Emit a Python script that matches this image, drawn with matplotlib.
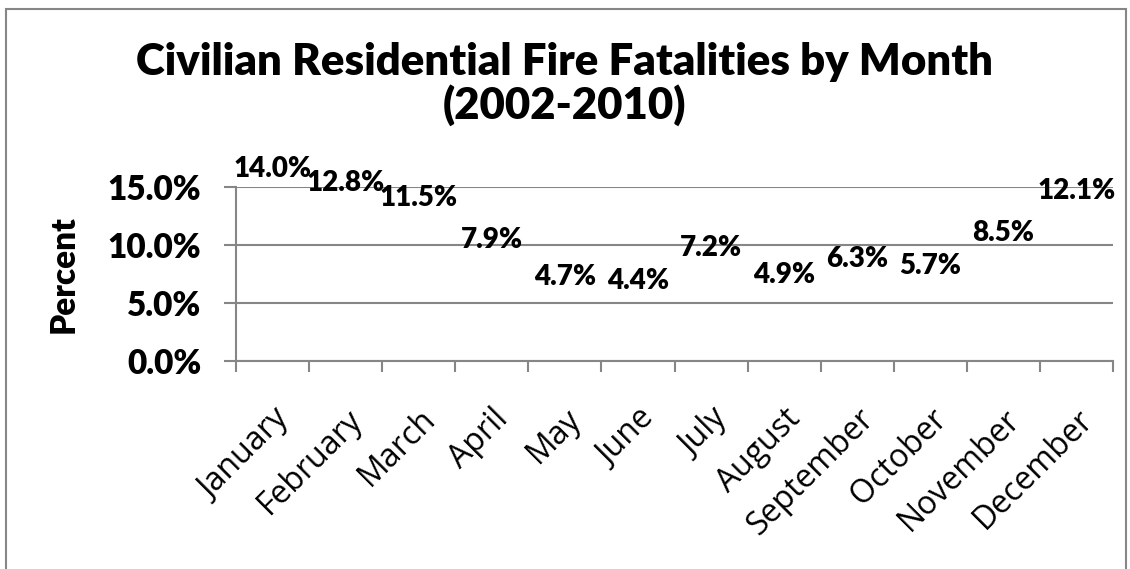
import numpy as np
import matplotlib.pyplot as plt
from matplotlib.patches import Rectangle
from matplotlib.transforms import ScaledTranslation

months = ['January', 'February', 'March', 'April', 'May', 'June', 'July',
          'August', 'September', 'October', 'November', 'December']
pct = [14.0, 12.8, 11.5, 7.9, 4.7, 4.4, 7.2, 4.9, 6.3, 5.7, 8.5, 12.1]
yticks = [0, 5, 10, 15]

plt.rcParams['font.family'] = ['Lato', 'DejaVu Sans']
grey = '#868686'

fig = plt.figure(figsize=(11.3, 5.69), dpi=100)
ax = fig.add_axes([236 / 1130, 1 - 361 / 569, (1113 - 236) / 1130, (361 - 187) / 569])

x = np.arange(len(months))
# the original line has no visible stroke, only the labels
ax.plot(x, pct, linestyle='none', marker='none')
for xi, v in zip(x, pct):
    ax.annotate('%.1f%%' % v, (xi, v), xytext=(0, 21), textcoords='offset points',
                ha='center', va='center', fontsize=20, fontweight='heavy')

ax.set_xlim(-0.5, len(months) - 0.5)
ax.set_ylim(0, 15)
ax.set_yticks(yticks)
ax.set_yticklabels(['%.1f%%' % t for t in yticks], fontsize=24, fontweight='heavy')
ax.set_xticks(x)
ax.set_xticklabels(months, rotation=45, ha='right', rotation_mode='anchor',
                   fontsize=23, family='Open Sans')
shift = ScaledTranslation(-0.06, 0, fig.dpi_scale_trans)
for lbl in ax.get_xticklabels():
    lbl.set_transform(lbl.get_transform() + shift)
ax.set_xticks(np.arange(-0.5, len(months)), minor=True)
ax.tick_params(axis='x', which='major', length=0, pad=30)
ax.tick_params(axis='x', which='minor', length=8, width=1.5, color=grey, direction='out')
ax.tick_params(axis='y', length=9, width=1.5, color=grey, pad=16)

ax.grid(axis='y', color=grey, linewidth=1.5)
ax.set_axisbelow(True)
for s in ['top', 'right']:
    ax.spines[s].set_visible(False)
for s in ['left', 'bottom']:
    ax.spines[s].set_color(grey)
    ax.spines[s].set_linewidth(1.5)

ax.set_ylabel('Percent', fontsize=24, fontweight='heavy', labelpad=20)

fig.text(0.5, 1 - 84 / 569, 'Civilian Residential Fire Fatalities by Month\n(2002-2010)',
         ha='center', va='center', fontsize=31.5, fontweight='heavy', linespacing=1.08)

# chart border
fig.patches.append(Rectangle((6 / 1130, -0.05), 1120 / 1130, 1.05 - 9 / 569,
                             transform=fig.transFigure, fill=False,
                             edgecolor=grey, linewidth=1.5))

fig.savefig('out.png', dpi=100)
